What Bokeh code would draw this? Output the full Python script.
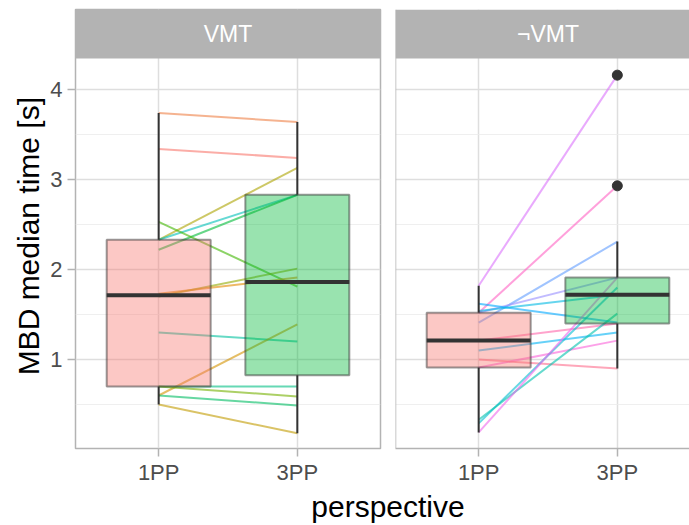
import math
import numpy as np
from bokeh.plotting import figure
from bokeh.models import Range1d, FixedTicker, BoxAnnotation, Label, Span, ColumnDataSource
from bokeh.layouts import column, row
from bokeh.core.properties import value
from bokeh.embed import file_html
from bokeh.resources import INLINE

# ---------------- data ----------------
categories = ["1PP", "3PP"]
facets = ["VMT", "\u00acVMT"]

# VMT panel: one value per subject and perspective
vmt_1pp = [3.74, 3.34, 2.33, 2.33, 2.22, 2.53, 1.70, 1.73, 1.30, 0.60, 0.70, 0.70, 0.60, 0.50]
vmt_3pp = [3.64, 3.24, 3.13, 2.83, 2.83, 1.81, 2.01, 1.91, 1.20, 1.39, 0.70, 0.59, 0.49, 0.18]
vmt_hue = [28, 15, 82, 188, 135, 122, 95, 42, 175, 55, 162, 108, 148, 68]

# not-VMT panel
nvmt_1pp = [1.82, 1.52, 1.41, 1.52, 1.62, 1.54, 1.21, 1.10, 0.91, 1.00, 0.29, 0.33, 0.19]
nvmt_3pp = [4.16, 2.93, 2.31, 1.91, 1.41, 1.72, 1.40, 1.30, 1.21, 0.90, 1.80, 1.51, 1.91]
nvmt_hue = [295, 335, 255, 268, 242, 215, 348, 228, 322, 2, 202, 182, 308]

y_ticks = [1, 2, 3, 4]
y_minor = [0.5, 1.5, 2.5, 3.5]
x_title = "perspective"
y_title = "MBD median time [s]"

box_fill = ["#F8766D", "#00BA38"]

# ---------------- layout constants ----------------
FONT = "Liberation Sans"
TOP = 9
FRAME_H = 439
BOTTOM = 42
MAIN_H = TOP + FRAME_H + BOTTOM
STRIP_H = 49
LAB_W = 46
LEFT = 75 - LAB_W
Y_LO, Y_HI = 0.011, 4.345
Y_END = Y_HI + STRIP_H * (Y_HI - Y_LO) / (FRAME_H - STRIP_H)
PX_X = 305 / 2.2
BORDER = "#B3B3B3"
GRID = "#DEDEDE"
MINOR = "#EBEBEB"
TICK_TXT = "#4D4D4D"


def hcl_hex(h, c=100.0, l=65.0):
    hr = math.radians(h)
    u, v = c * math.cos(hr), c * math.sin(hr)
    Xn, Yn, Zn = 95.047, 100.0, 108.883
    den = Xn + 15 * Yn + 3 * Zn
    un, vn = 4 * Xn / den, 9 * Yn / den
    Y = Yn * ((l + 16) / 116) ** 3
    up = u / (13 * l) + un
    vp = v / (13 * l) + vn
    X = Y * 9 * up / (4 * vp)
    Z = Y * (12 - 3 * up - 20 * vp) / (4 * vp)
    X, Y, Z = X / 100, Y / 100, Z / 100
    rgb = [3.240479 * X - 1.537150 * Y - 0.498535 * Z,
           -0.969256 * X + 1.875992 * Y + 0.041556 * Z,
           0.055648 * X - 0.204043 * Y + 1.057311 * Z]
    out = []
    for ch in rgb:
        ch = 12.92 * ch if ch <= 0.0031308 else 1.055 * (max(ch, 0) ** (1 / 2.4)) - 0.055
        out.append(int(round(min(max(ch, 0), 1) * 255)))
    return "#%02X%02X%02X" % tuple(out)


def box_stats(vals):
    a = np.asarray(vals, dtype=float)
    q1, med, q3 = np.percentile(a, [25, 50, 75])
    iqr = q3 - q1
    lo = a[a >= q1 - 1.5 * iqr].min()
    hi = a[a <= q3 + 1.5 * iqr].max()
    out = a[(a < lo) | (a > hi)]
    return q1, med, q3, lo, hi, out


def make_panel(v1, v2, hues, facet, width, frame_w, left):
    x_end = 0.4 + frame_w / PX_X
    p = figure(width=width, height=MAIN_H, title=None,
               x_range=Range1d(0.4, x_end), y_range=Range1d(Y_LO, Y_END),
               output_backend="svg", toolbar_location=None,
               min_border_top=TOP, min_border_bottom=BOTTOM,
               min_border_left=LEFT if left else 8,
               min_border_right=7 if left else 0,
               background_fill_color="white", border_fill_color="white")
    pos = {c: i + 1 for i, c in enumerate(categories)}

    # paired subject lines (under the boxes)
    src = ColumnDataSource(dict(
        x0=[pos[categories[0]]] * len(v1), y0=v1,
        x1=[pos[categories[1]]] * len(v2), y1=v2,
        c=[hcl_hex(h) for h in hues]))
    p.segment(x0="x0", y0="y0", x1="x1", y1="y1", source=src,
              line_color="c", line_width=2, line_alpha=0.6)

    # boxplots
    xs, q1s, meds, q3s, los, his, fills, ox, oy = [], [], [], [], [], [], [], [], []
    for i, (cat, vals) in enumerate(zip(categories, [v1, v2])):
        q1, med, q3, lo, hi, out = box_stats(vals)
        xs.append(pos[cat]); q1s.append(q1); meds.append(med); q3s.append(q3)
        los.append(lo); his.append(hi); fills.append(box_fill[i])
        ox += [pos[cat]] * len(out); oy += list(out)
    bsrc = ColumnDataSource(dict(x=xs, q1=q1s, med=meds, q3=q3s, lo=los, hi=his,
                                 fill=fills,
                                 xl=[x - 0.375 for x in xs], xr=[x + 0.375 for x in xs]))
    p.segment(x0="x", y0="lo", x1="x", y1="q1", source=bsrc, line_color="#333333", line_width=2)
    p.segment(x0="x", y0="q3", x1="x", y1="hi", source=bsrc, line_color="#333333", line_width=2)
    p.vbar(x="x", width=0.75, bottom="q1", top="q3", source=bsrc,
           fill_color="fill", fill_alpha=0.4,
           line_color="#333333", line_alpha=0.5, line_width=2)
    p.segment(x0="xl", y0="med", x1="xr", y1="med", source=bsrc,
              line_color="#333333", line_width=4)
    if ox:
        p.scatter(x=ox, y=oy, size=10, color="#333333")

    # strip
    p.add_layout(BoxAnnotation(bottom=Y_HI, fill_color=BORDER, fill_alpha=1.0,
                               line_color=None))
    p.add_layout(Label(x=1.5, y=(Y_HI + Y_END) / 2, text=facet,
                       text_align="center", text_baseline="middle",
                       text_color="white", text_font=FONT, text_font_size="23px"))

    # axes
    xt = FixedTicker(ticks=[pos[c] for c in categories])
    yt = FixedTicker(ticks=y_ticks, minor_ticks=y_minor)
    p.xaxis.ticker = xt
    p.xaxis.major_label_overrides = {pos[c]: c for c in categories}
    p.yaxis.ticker = yt
    p.xgrid.ticker = xt
    p.ygrid.ticker = yt
    for ax in (p.xaxis[0], p.yaxis[0]):
        ax.major_tick_out = 8
        ax.major_tick_in = 0
        ax.minor_tick_out = 0
        ax.minor_tick_in = 0
        ax.major_tick_line_color = BORDER
        ax.major_tick_line_width = 1.5
        ax.major_label_text_font = FONT
        ax.major_label_text_font_size = "22px"
        ax.major_label_text_color = TICK_TXT
        ax.major_label_standoff = 5
    p.xaxis.major_label_standoff = 3

    if left:
        p.outline_line_color = BORDER
        p.outline_line_width = 1.5
        p.xaxis.axis_line_color = None
        p.yaxis.axis_line_color = None
    else:
        p.outline_line_color = None
        p.xaxis.axis_line_color = BORDER
        p.xaxis.axis_line_width = 1.5
        p.yaxis.visible = False
        p.add_layout(Span(location=0.4, dimension="height",
                          line_color=BORDER, line_width=1.5))

    p.xgrid.grid_line_color = GRID
    p.xgrid.grid_line_width = 1.5
    p.ygrid.grid_line_color = GRID
    p.ygrid.grid_line_width = 1.5
    p.ygrid.minor_grid_line_color = MINOR
    p.ygrid.minor_grid_line_width = 0.8
    return p


def text_strip(width, height, x, y, text, angle=0.0):
    q = figure(width=width, height=height, title=None,
               x_range=Range1d(0, width), y_range=Range1d(0, height),
               output_backend="svg", toolbar_location=None, min_border=0,
               background_fill_color="white", border_fill_color="white")
    q.outline_line_color = None
    q.axis.visible = False
    q.grid.visible = False
    q.text(x=[x], y=[y], text=[text], angle=[angle], text_font=value(FONT),
           text_font_size=value("30px"), text_align="center",
           text_baseline="middle", text_color="black")
    return q


# y title, centred on the panel area (page y ~ 253)
p_ylab = text_strip(LAB_W, MAIN_H, 28, MAIN_H - 253, y_title, math.pi / 2)
p_left = make_panel(vmt_1pp, vmt_3pp, vmt_hue, facets[0], 387 - LAB_W, 305, True)
p_right = make_panel(nvmt_1pp, nvmt_3pp, nvmt_hue, facets[1], 302, 294, False)

# x title spanning both panels
BOT_H = 525 - MAIN_H
p_bot = text_strip(689, BOT_H, 387.5, BOT_H - 16, x_title)

layout = column(row(p_ylab, p_left, p_right, spacing=0), p_bot, spacing=0)

open("out.html", "w").write(file_html(layout, INLINE))
